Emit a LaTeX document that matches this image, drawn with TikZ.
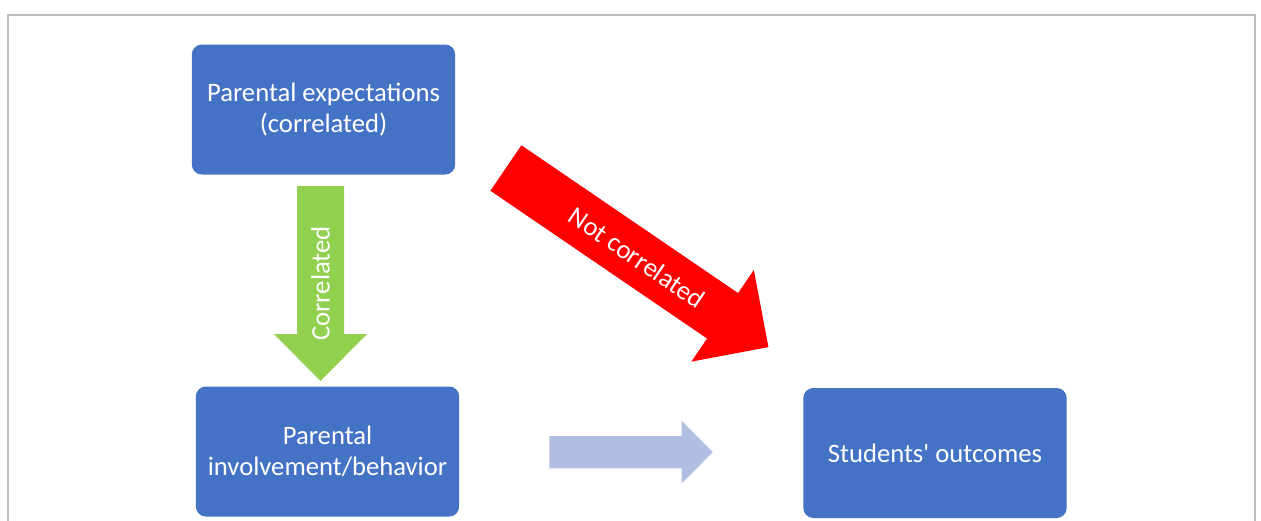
\documentclass[tikz,border=0pt]{standalone}
\usepackage{fontspec}
\setmainfont{Carlito}
\usepackage{tikz}

\definecolor{boxblue}{HTML}{4472C4}
\definecolor{leafgreen}{HTML}{92D050}
\definecolor{paleblue}{RGB}{177,190,225}
\definecolor{framegray}{HTML}{BFBFBF}

\begin{document}
\begin{tikzpicture}[x=0.75pt,y=-0.75pt,line join=miter,
    box@/.style={fill=boxblue,rounded corners=7.5pt,text=white,align=center,
      minimum width=197.5pt,minimum height=97.5pt,inner sep=0pt,
      font=\fontsize{20pt}{23pt}\selectfont},
    lbl@/.style={text=white,inner sep=0pt,font=\fontsize{20pt}{23pt}\selectfont}]
    \useasboundingbox (0,0) rectangle (1261,521);
    % Outer frame, open at the bottom.
    \draw[framegray,line width=1.3pt] (8.3,521) |- (1255.3,14.8) -- (1255.3,521);

    % The three boxes.
    \node[box@] (expect) at (323.5,109.5) {Parental expectations\\(correlated)};
    \node[box@] (involve) at (327.5,451.5) {Parental\\involvement/behavior};
    \node[box@] (outcome) at (935,453) {Students\textquotesingle{} outcomes};

    % Expectations to involvement.
    \begin{scope}[shift={(320.5,186)},rotate=-90]
      \fill[leafgreen] (0,-23.5) -- (148,-23.5) -- (148,-46.5) -- (195,0)
        -- (148,46.5) -- (148,23.5) -- (0,23.5) -- cycle;
      \node[lbl@,rotate=90] at (97.5,0) {Correlated};
    \end{scope}

    % Expectations to outcomes.
    \begin{scope}[shift={(505.9,168)},rotate=-34.3]
      \fill[red] (0,-27.5) -- (262.3,-27.5) -- (262.3,-55.5) -- (317.8,0)
        -- (262.3,55.5) -- (262.3,27.5) -- (0,27.5) -- cycle;
      \node[lbl@,rotate=-34.3] at (158.9,0) {Not correlated};
    \end{scope}

    % Involvement to outcomes.
    \begin{scope}[shift={(549.3,452.2)}]
      \fill[paleblue] (0,-16.2) -- (132.4,-16.2) -- (132.4,-31.3) -- (163.4,0)
        -- (132.4,31.3) -- (132.4,16.2) -- (0,16.2) -- cycle;
    \end{scope}
  \end{tikzpicture}
\end{document}
